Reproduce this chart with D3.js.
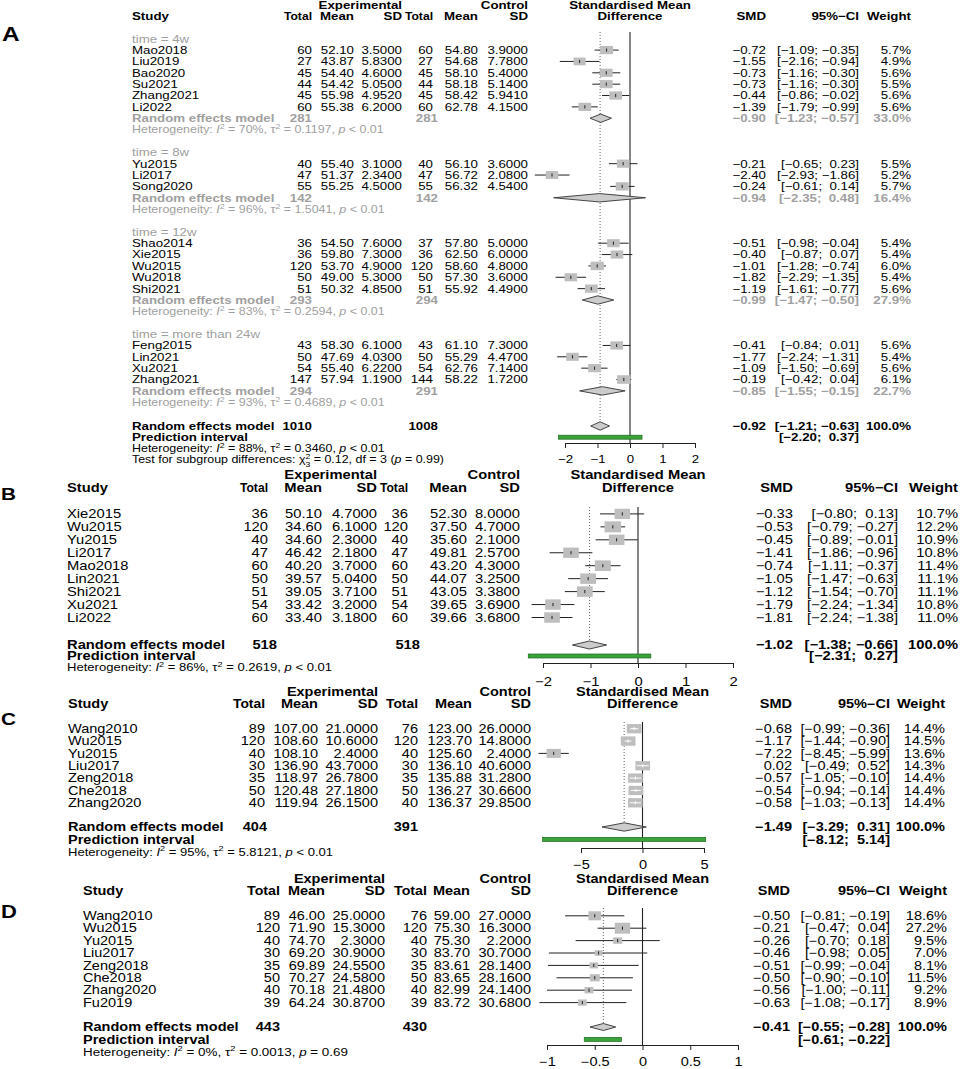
<!DOCTYPE html>
<html><head><meta charset="utf-8">
<script src="https://cdn.jsdelivr.net/npm/d3@7"></script>
<style>
body{margin:0;background:#fff}
svg text{font-family:"Liberation Sans",Arial,Helvetica,sans-serif}
</style></head><body>
<svg id="chart" width="960" height="1069"></svg>
<script>
// ---------------- DATA ----------------
// study rows: [study, nE, meanE, sdE, nC, meanC, sdC, SMD, lower, upper, weight%]
const aGroupLabels = ["time = 4w", "time = 8w", "time = 12w", "time = more than 24w"];
const aStudies4w = [
  ["Mao2018", 60, 52.10, 3.5000, 60, 54.80, 3.9000, -0.72, -1.09, -0.35, 5.7],
  ["Liu2019", 27, 43.87, 5.8300, 27, 54.68, 7.7800, -1.55, -2.16, -0.94, 4.9],
  ["Bao2020", 45, 54.40, 4.6000, 45, 58.10, 5.4000, -0.73, -1.16, -0.30, 5.6],
  ["Su2021", 44, 54.42, 5.0500, 44, 58.18, 5.1400, -0.73, -1.16, -0.30, 5.5],
  ["Zhang2021", 45, 55.98, 4.9520, 45, 58.42, 5.9410, -0.44, -0.86, -0.02, 5.6],
  ["Li2022", 60, 55.38, 6.2000, 60, 62.78, 4.1500, -1.39, -1.79, -0.99, 5.6]
];
const aStudies8w = [
  ["Yu2015", 40, 55.40, 3.1000, 40, 56.10, 3.6000, -0.21, -0.65, 0.23, 5.5],
  ["Li2017", 47, 51.37, 2.3400, 47, 56.72, 2.0800, -2.40, -2.93, -1.86, 5.2],
  ["Song2020", 55, 55.25, 4.5000, 55, 56.32, 4.5400, -0.24, -0.61, 0.14, 5.7]
];
const aStudies12w = [
  ["Shao2014", 36, 54.50, 7.6000, 37, 57.80, 5.0000, -0.51, -0.98, -0.04, 5.4],
  ["Xie2015", 36, 59.80, 7.3000, 36, 62.50, 6.0000, -0.40, -0.87, 0.07, 5.4],
  ["Wu2015", 120, 53.70, 4.9000, 120, 58.60, 4.8000, -1.01, -1.28, -0.74, 6.0],
  ["Wu2018", 50, 49.00, 5.3000, 50, 57.30, 3.6000, -1.82, -2.29, -1.35, 5.4],
  ["Shi2021", 51, 50.32, 4.8500, 51, 55.92, 4.4900, -1.19, -1.61, -0.77, 5.6]
];
const aStudies24w = [
  ["Feng2015", 43, 58.30, 6.1000, 43, 61.10, 7.3000, -0.41, -0.84, 0.01, 5.6],
  ["Lin2021", 50, 47.69, 4.0300, 50, 55.29, 4.4700, -1.77, -2.24, -1.31, 5.4],
  ["Xu2021", 54, 55.40, 6.2200, 54, 62.76, 7.1400, -1.09, -1.50, -0.69, 5.6],
  ["Zhang2021", 147, 57.94, 1.1900, 144, 58.22, 1.7200, -0.19, -0.42, 0.04, 6.1]
];
// subgroup summaries: [nE, nC, SMD, lower, upper, weight%]
const aGroupSummary = [
  [281, 281, -0.90, -1.23, -0.57, 33.0],
  [142, 142, -0.94, -2.35, 0.48, 16.4],
  [293, 294, -0.99, -1.47, -0.50, 27.9],
  [294, 291, -0.85, -1.55, -0.15, 22.7]
];
// heterogeneity: [I2, tau2, p]
const aGroupHet = [["70%", "0.1197", "< 0.01"], ["96%", "1.5041", "< 0.01"], ["83%", "0.2594", "< 0.01"], ["93%", "0.4689", "< 0.01"]];
const aOverall = [1010, 1008, -0.92, -1.21, -0.63, 100.0];
const aPredict = [-2.20, 0.37];
const aHet = ["88%", "0.3460", "< 0.01"];
const aSubgroupTest = ["0.12", "3", "3", "= 0.99"]; // chi2, subscript, df, p
const aTicks = [-2, -1, 0, 1, 2];

const bStudies = [
  ["Xie2015", 36, 50.10, 4.7000, 36, 52.30, 8.0000, -0.33, -0.80, 0.13, 10.7],
  ["Wu2015", 120, 34.60, 6.1000, 120, 37.50, 4.7000, -0.53, -0.79, -0.27, 12.2],
  ["Yu2015", 40, 34.60, 2.3000, 40, 35.60, 2.1000, -0.45, -0.89, -0.01, 10.9],
  ["Li2017", 47, 46.42, 2.1800, 47, 49.81, 2.5700, -1.41, -1.86, -0.96, 10.8],
  ["Mao2018", 60, 40.20, 3.7000, 60, 43.20, 4.3000, -0.74, -1.11, -0.37, 11.4],
  ["Lin2021", 50, 39.57, 5.0400, 50, 44.07, 3.2500, -1.05, -1.47, -0.63, 11.1],
  ["Shi2021", 51, 39.05, 3.7100, 51, 43.05, 3.3800, -1.12, -1.54, -0.70, 11.1],
  ["Xu2021", 54, 33.42, 3.2000, 54, 39.65, 3.6900, -1.79, -2.24, -1.34, 10.8],
  ["Li2022", 60, 33.40, 3.1800, 60, 39.66, 3.6800, -1.81, -2.24, -1.38, 11.0]
];
const bOverall = [518, 518, -1.02, -1.38, -0.66, 100.0];
const bPredict = [-2.31, 0.27];
const bHet = ["86%", "0.2619", "< 0.01"];
const bTicks = [-2, -1, 0, 1, 2];

const cStudies = [
  ["Wang2010", 89, 107.00, 21.0000, 76, 123.00, 26.0000, -0.68, -0.99, -0.36, 14.4],
  ["Wu2015", 120, 108.60, 10.6000, 120, 123.70, 14.8000, -1.17, -1.44, -0.90, 14.5],
  ["Yu2015", 40, 108.10, 2.4000, 40, 125.60, 2.4000, -7.22, -8.45, -5.99, 13.6],
  ["Liu2017", 30, 136.90, 43.7000, 30, 136.10, 40.6000, 0.02, -0.49, 0.52, 14.3],
  ["Zeng2018", 35, 118.97, 26.7800, 35, 135.88, 31.2800, -0.57, -1.05, -0.10, 14.4],
  ["Che2018", 50, 120.48, 27.1800, 50, 136.27, 30.6600, -0.54, -0.94, -0.14, 14.4],
  ["Zhang2020", 40, 119.94, 26.1500, 40, 136.37, 29.8500, -0.58, -1.03, -0.13, 14.4]
];
const cOverall = [404, 391, -1.49, -3.29, 0.31, 100.0];
const cPredict = [-8.12, 5.14];
const cHet = ["95%", "5.8121", "< 0.01"];
const cTicks = [-5, 0, 5];

const dStudies = [
  ["Wang2010", 89, 46.00, 25.0000, 76, 59.00, 27.0000, -0.50, -0.81, -0.19, 18.6],
  ["Wu2015", 120, 71.90, 15.3000, 120, 75.30, 16.3000, -0.21, -0.47, 0.04, 27.2],
  ["Yu2015", 40, 74.70, 2.3000, 40, 75.30, 2.2000, -0.26, -0.70, 0.18, 9.5],
  ["Liu2017", 30, 69.20, 30.9000, 30, 83.70, 30.7000, -0.46, -0.98, 0.05, 7.0],
  ["Zeng2018", 35, 69.89, 24.5500, 35, 83.61, 28.1400, -0.51, -0.99, -0.04, 8.1],
  ["Che2018", 50, 70.27, 24.5800, 50, 83.65, 28.1600, -0.50, -0.90, -0.10, 11.5],
  ["Zhang2020", 40, 70.18, 21.4800, 40, 82.99, 24.1400, -0.56, -1.00, -0.11, 9.2],
  ["Fu2019", 39, 64.24, 30.8700, 39, 83.72, 30.6800, -0.63, -1.08, -0.17, 8.9]
];
const dOverall = [443, 430, -0.41, -0.55, -0.28, 100.0];
const dPredict = [-0.61, -0.22];
const dHet = ["0%", "0.0013", "= 0.69"];
const dTicks = [-1, -0.5, 0, 0.5, 1];

// ---------------- LAYOUT ----------------
const SX = 1.22;
const GREY = "#a0a0a0";
const svg = d3.select("#chart");
svg.append("rect").attr("width", 960).attr("height", 1069).attr("fill", "#fff");

const panels = {
  A: {fs: 10.9, hfs: 10.2, y0: 16, pitch: 11.36, totalW: 28,
      col: {study: 132, eT: 312, eM: 354, eS: 402, cT: 433, cM: 478, cS: 528, smd: 766, ci: 859, w: 911, totE: 312, totC: 438},
      dom: [-2, 2], rng: [565, 695], vTop: 32, axisY: 443, tickLabY: 459,
      boxC: 3.48, boxAsp: 1.55, diaH: 8.4, label: "A", labelX: 2, labelY: 34, labelFs: 20,
      foot: [426, 437.2, 448.4, 459.6]},
  B: {fs: 12.1, hfs: 10.7, y0: 488, pitch: 12.95, totalW: 28,
      col: {study: 67, eT: 268, eM: 322, eS: 377, cT: 408, cM: 467, cS: 520, smd: 793, ci: 898, w: 958, totE: 277, totC: 420},
      dom: [-2, 2], rng: [543, 733], vTop: 507, axisY: 663, tickLabY: 682,
      boxC: 3.15, boxAsp: 1.5, diaH: 8, label: "B", labelX: 1, labelY: 494, labelFs: 17,
      foot: [645, 656, 667.5]},
  C: {fs: 11.9, hfs: 10.7, y0: 704, pitch: 12.35, totalW: 32,
      col: {study: 68, eT: 265, eM: 318, eS: 378, cT: 418, cM: 472, cS: 531, smd: 792, ci: 890, w: 945, totE: 267, totC: 418},
      dom: [-5, 5], rng: [581, 704], vTop: 722, axisY: 848, tickLabY: 865,
      boxC: 2.45, boxAsp: 1.58, diaH: 8.3, label: "C", labelX: 1, labelY: 719, labelFs: 17,
      foot: [827, 839.4, 851.8]},
  D: {fs: 11.9, hfs: 11.0, y0: 891, pitch: 12.4, totalW: 33,
      col: {study: 83, eT: 280, eM: 325, eS: 385, cT: 427, cM: 470, cS: 531, smd: 790, ci: 890, w: 947, totE: 280, totC: 427},
      dom: [-1, 1], rng: [547, 738], vTop: 908, axisY: 1045, tickLabY: 1062,
      boxC: 2.1, boxAsp: 1.4, diaH: 7, label: "D", labelX: 1, labelY: 912, labelFs: 18,
      foot: [1027, 1039.4, 1051.8]}
};

// ---------------- HELPERS ----------------
const MINUS = "\u2212", NB = "\u00A0";
const f2 = v => (v < 0 ? MINUS : "") + Math.abs(v).toFixed(2);
const ciStr = (lo, hi) => "[" + (lo < 0 ? "" : NB) + f2(lo) + ";" + NB + (hi < 0 ? "" : NB) + f2(hi) + "]";
const tickFmt = d => (d < 0 ? MINUS : "") + Math.abs(d);

function txt(g, x, y, s, o = {}) {
  const t = g.append("text")
    .attr("transform", `translate(${x},${y}) scale(${SX},1)`)
    .attr("dy", "0.36em")
    .attr("text-anchor", o.anchor || "start")
    .style("font-size", o.fs + "px")
    .style("font-weight", o.bold ? "bold" : "normal")
    .attr("fill", o.color || "#000")
    .text(s);
  if (o.w) { // fit to a target on-screen width
    const len = t.node().getComputedTextLength();
    if (len > 0) t.attr("transform", `translate(${x},${y}) scale(${o.w / len},1)`);
  }
  return t;
}

function hetLine(g, x, y, fs, color, h) {
  const t = txt(g, x, y, "", {fs, color});
  const sup = fs * 0.7, sh = fs * 0.42;
  t.append("tspan").text("Heterogeneity: ");
  t.append("tspan").style("font-style", "italic").text("I");
  t.append("tspan").attr("dy", -sh).style("font-size", sup + "px").text("2");
  t.append("tspan").attr("dy", sh).text(" = " + h[0] + ", \u03C4");
  t.append("tspan").attr("dy", -sh).style("font-size", sup + "px").text("2");
  t.append("tspan").attr("dy", sh).text(" = " + h[1] + ", ");
  t.append("tspan").style("font-style", "italic").text("p");
  t.append("tspan").text(" " + h[2]);
}

function testLine(g, x, y, fs, color, tst) {
  const t = txt(g, x, y, "", {fs, color});
  const sup = fs * 0.7, sh = fs * 0.42;
  t.append("tspan").text("Test for subgroup differences: \u03C7");
  t.append("tspan").attr("dy", -sh).style("font-size", sup + "px").text("2");
  t.append("tspan").attr("dy", sh * 1.8).attr("dx", -sup * 0.556).style("font-size", sup + "px").text(tst[1]);
  t.append("tspan").attr("dy", -sh * 0.8).text(" = " + tst[0] + ", df = " + tst[2] + " (");
  t.append("tspan").style("font-style", "italic").text("p");
  t.append("tspan").text(" " + tst[3] + ")");
}

function headers(g, P, x) {
  const c = P.col, y1 = P.y0 - P.pitch, y2 = P.y0, o = {fs: P.fs, bold: true};
  const mid = (P.rng[0] + P.rng[1]) / 2;
  txt(g, c.eS, y1, "Experimental", {...o, anchor: "end"});
  txt(g, c.cS, y1, "Control", {...o, anchor: "end"});
  txt(g, mid, y1, "Standardised Mean", {...o, anchor: "middle"});
  txt(g, c.study, y2, "Study", o);
  txt(g, c.eT, y2, "Total", {...o, anchor: "end", w: P.totalW});
  txt(g, c.eM, y2, "Mean", {...o, anchor: "end"});
  txt(g, c.eS, y2, "SD", {...o, anchor: "end"});
  txt(g, c.cT, y2, "Total", {...o, anchor: "end", w: P.totalW});
  txt(g, c.cM, y2, "Mean", {...o, anchor: "end"});
  txt(g, c.cS, y2, "SD", {...o, anchor: "end"});
  txt(g, mid, y2, "Difference", {...o, anchor: "middle"});
  txt(g, c.smd, y2, "SMD", {...o, anchor: "end"});
  txt(g, c.ci, y2, "95%\u2212CI", {...o, anchor: "end"});
  txt(g, c.w, y2, "Weight", {...o, anchor: "end"});
  txt(g, P.labelX, P.labelY, P.label, {fs: P.labelFs, bold: true});
}

function studyRow(g, P, x, s, y) {
  const c = P.col, o = {fs: P.fs};
  txt(g, c.study, y, s[0], o);
  txt(g, c.eT, y, String(s[1]), {...o, anchor: "end"});
  txt(g, c.eM, y, s[2].toFixed(2), {...o, anchor: "end"});
  txt(g, c.eS, y, s[3].toFixed(4), {...o, anchor: "end"});
  txt(g, c.cT, y, String(s[4]), {...o, anchor: "end"});
  txt(g, c.cM, y, s[5].toFixed(2), {...o, anchor: "end"});
  txt(g, c.cS, y, s[6].toFixed(4), {...o, anchor: "end"});
  txt(g, c.smd, y, f2(s[7]), {...o, anchor: "end"});
  txt(g, c.ci, y, ciStr(s[8], s[9]), {...o, anchor: "end"});
  txt(g, c.w, y, s[10].toFixed(1) + "%", {...o, anchor: "end"});
  // marks
  const h = P.boxC * Math.sqrt(s[10]), bw = h * P.boxAsp;
  const cx = x(s[7]), x0 = x(s[8]), x1 = x(s[9]);
  const inside = (x1 - x0) < bw;
  const lc = inside ? "#fff" : "#222";
  if (!inside) g.append("line").attr("x1", x0).attr("x2", x1).attr("y1", y).attr("y2", y).attr("stroke", lc).attr("stroke-width", 1);
  g.append("rect").attr("x", cx - bw / 2).attr("y", y - h / 2).attr("width", bw).attr("height", h).attr("fill", "#bebebe");
  if (inside) g.append("line").attr("x1", x0).attr("x2", x1).attr("y1", y).attr("y2", y).attr("stroke", lc).attr("stroke-width", 1);
  g.append("line").attr("x1", cx).attr("x2", cx).attr("y1", y - 1.6).attr("y2", y + 1.6).attr("stroke", lc).attr("stroke-width", 1);
}

function diamond(g, x, est, lo, hi, y, h) {
  g.append("polygon")
    .attr("points", [[x(lo), y], [x(est), y - h / 2], [x(hi), y], [x(est), y + h / 2]].map(p => p.join(",")).join(" "))
    .attr("fill", "#cccccc").attr("stroke", "#333").attr("stroke-width", 0.9);
}

function summaryRow(g, P, x, sm, y, color, label) {
  const c = P.col, o = {fs: P.fs, bold: true, color};
  txt(g, c.study, y, label, o);
  txt(g, c.totE, y, String(sm[0]), {...o, anchor: "end"});
  txt(g, c.totC, y, String(sm[1]), {...o, anchor: "end"});
  txt(g, c.smd, y, f2(sm[2]), {...o, anchor: "end"});
  txt(g, c.ci, y, ciStr(sm[3], sm[4]), {...o, anchor: "end"});
  txt(g, c.w, y, sm[5].toFixed(1) + "%", {...o, anchor: "end"});
  diamond(g, x, sm[2], sm[3], sm[4], y, P.diaH);
}

function predictRow(g, P, x, pr, y) {
  txt(g, P.col.study, y, "Prediction interval", {fs: P.fs, bold: true});
  txt(g, P.col.ci, y, ciStr(pr[0], pr[1]), {fs: P.fs, bold: true, anchor: "end"});
  g.append("rect").attr("x", x(pr[0])).attr("y", y - 2).attr("width", x(pr[1]) - x(pr[0])).attr("height", 4)
    .attr("fill", "#3aa23a").attr("stroke", "#1e6a1e").attr("stroke-width", 0.7);
}

function frame(g, P, x, est, ticks) {
  g.append("line").attr("x1", x(est)).attr("x2", x(est)).attr("y1", P.vTop).attr("y2", P.foot[0] - P.diaH / 2)
    .attr("stroke", "#555").attr("stroke-width", 0.9).attr("stroke-dasharray", "1,2");
  g.append("line").attr("x1", x(0)).attr("x2", x(0)).attr("y1", P.vTop).attr("y2", P.axisY)
    .attr("stroke", "#222").attr("stroke-width", 1.1);
  const ax = g.append("g").attr("transform", `translate(0,${P.axisY})`)
    .call(d3.axisBottom(x).tickValues(ticks).tickFormat(tickFmt).tickSize(5).tickSizeOuter(0));
  ax.select(".domain").attr("stroke", "#222");
  ax.selectAll(".tick line").attr("stroke", "#222");
  ax.selectAll(".tick text")
    .attr("y", P.tickLabY - P.axisY).attr("dy", "0.36em")
    .attr("transform", `scale(${SX},1)`)
    .attr("fill", "#000")
    .style("font-size", P.fs + "px")
    .style("font-family", '"Liberation Sans",Arial,sans-serif');
}

// ---------------- PANEL A ----------------
(function () {
  const P = panels.A, g = svg.append("g");
  const x = d3.scaleLinear().domain(P.dom).range(P.rng);
  headers(g, P, x);
  frame(g, P, x, aOverall[2], aTicks);
  const groups = [aStudies4w, aStudies8w, aStudies12w, aStudies24w];
  let r = 2;
  const yr = i => P.y0 + i * P.pitch;
  groups.forEach((st, gi) => {
    txt(g, P.col.study, yr(r), aGroupLabels[gi], {fs: P.fs, color: GREY});
    r++;
    st.forEach(s => { studyRow(g, P, x, s, yr(r)); r++; });
    summaryRow(g, P, x, aGroupSummary[gi], yr(r), GREY, "Random effects model"); r++;
    hetLine(g, P.col.study, yr(r), P.hfs, GREY, aGroupHet[gi]); r++;
    r++;
  });
  summaryRow(g, P, x, aOverall, P.foot[0], "#000", "Random effects model");
  predictRow(g, P, x, aPredict, P.foot[1]);
  hetLine(g, P.col.study, P.foot[2], P.hfs, "#000", aHet);
  testLine(g, P.col.study, P.foot[3], P.hfs, "#000", aSubgroupTest);
})();

// ---------------- PANELS B, C, D ----------------
function simplePanel(P, studies, overall, predict, het, ticks) {
  const g = svg.append("g");
  const x = d3.scaleLinear().domain(P.dom).range(P.rng);
  headers(g, P, x);
  frame(g, P, x, overall[2], ticks);
  studies.forEach((s, i) => studyRow(g, P, x, s, P.y0 + (i + 2) * P.pitch));
  summaryRow(g, P, x, overall, P.foot[0], "#000", "Random effects model");
  predictRow(g, P, x, predict, P.foot[1]);
  hetLine(g, P.col.study, P.foot[2], P.hfs, "#000", het);
}
simplePanel(panels.B, bStudies, bOverall, bPredict, bHet, bTicks);
simplePanel(panels.C, cStudies, cOverall, cPredict, cHet, cTicks);
simplePanel(panels.D, dStudies, dOverall, dPredict, dHet, dTicks);
</script>
</body></html>
